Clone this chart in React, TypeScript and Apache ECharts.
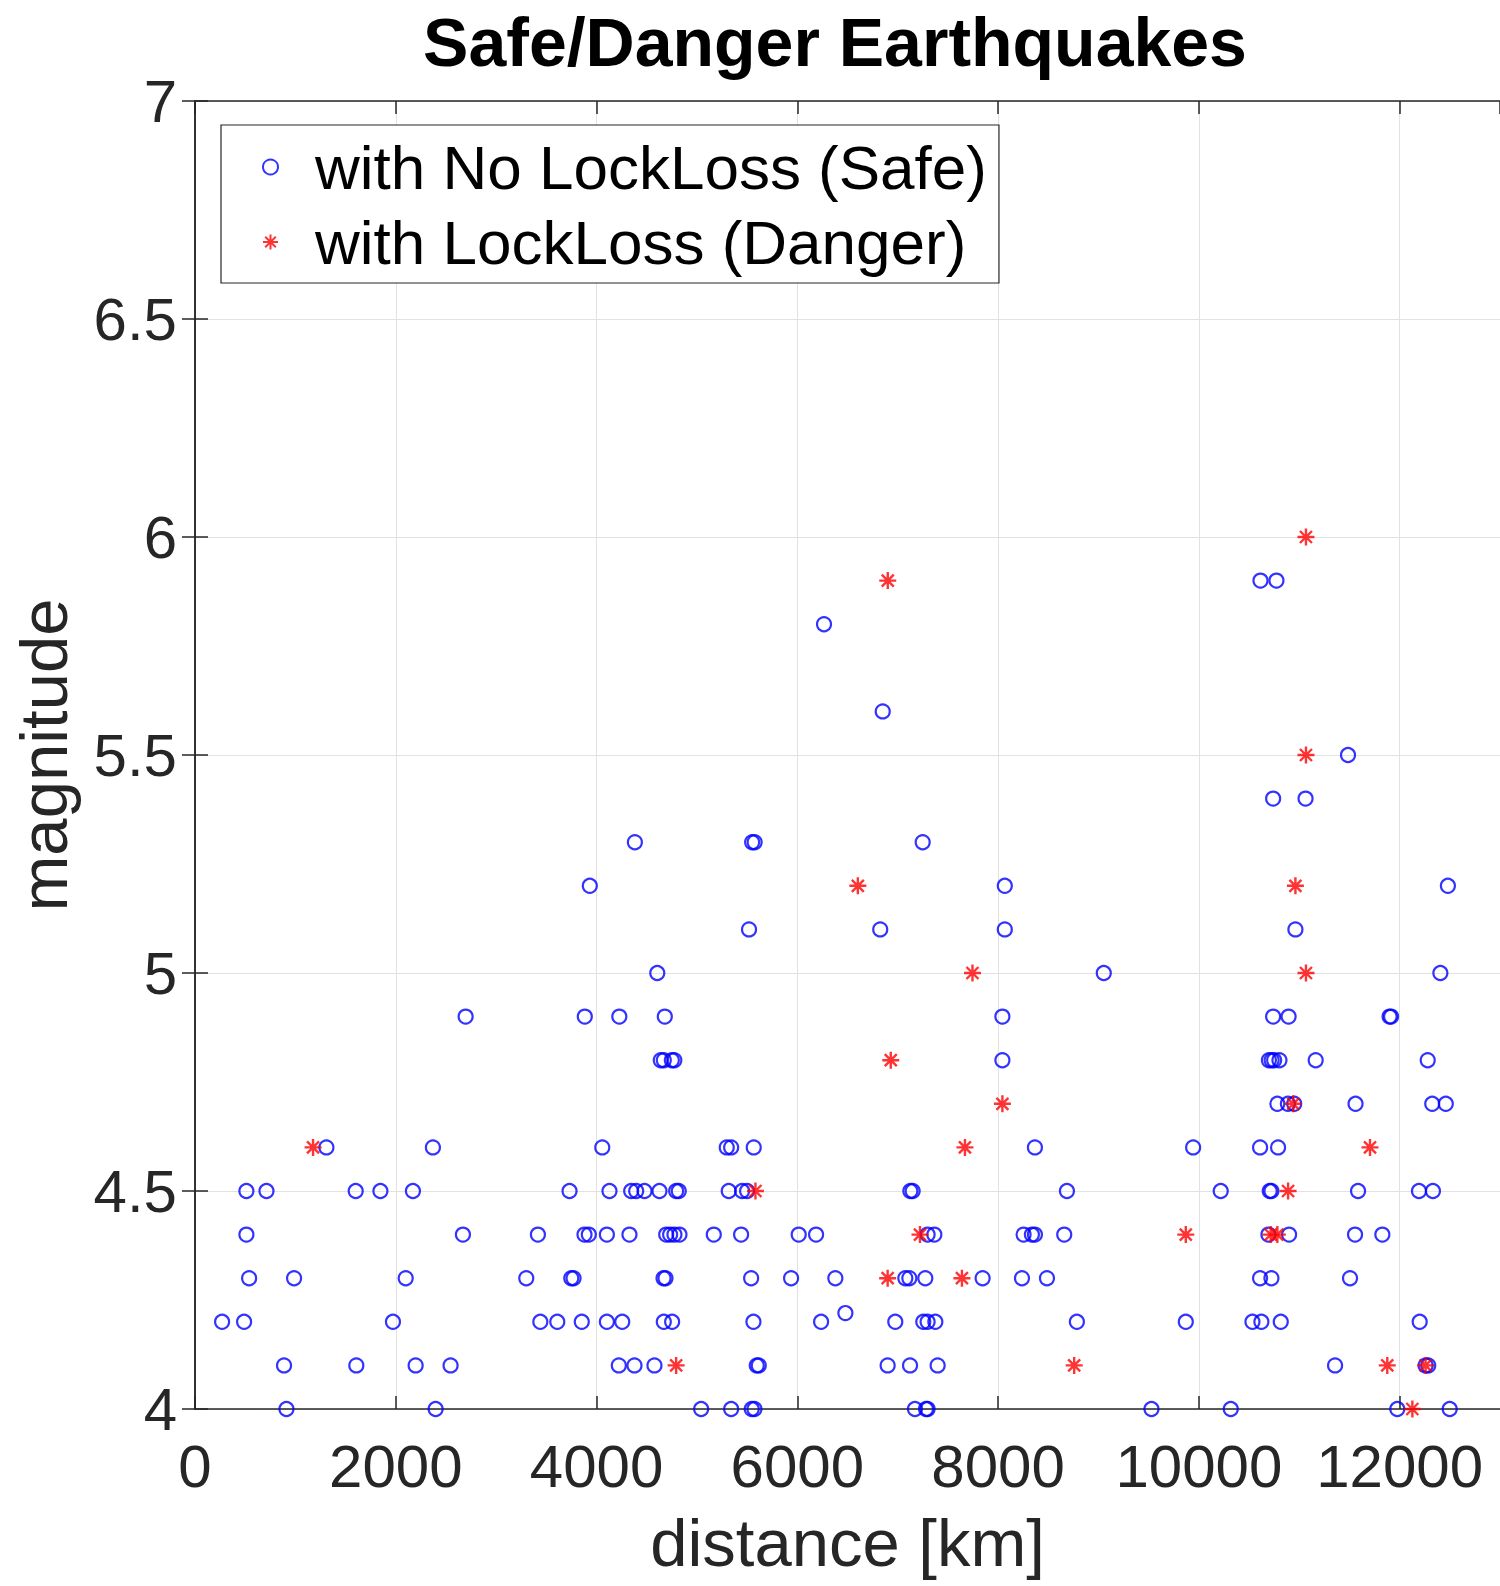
import React, { useEffect, useRef } from "react";
import * as echarts from "echarts";

// Magnitude rows and the distances (km) of events at each magnitude
const safeMagnitudes = [5.9, 5.8, 5.6, 5.5, 5.4, 5.3, 5.2, 5.1, 5.0, 4.9, 4.8, 4.7, 4.6, 4.5, 4.4, 4.3, 4.22, 4.2, 4.1, 4.0];
const safeDistances = [
  [10614, 10773],
  [6266],
  [6851],
  [11486],
  [10740, 11063],
  [4382, 5550, 5575, 7249],
  [3933, 8067, 12481],
  [5519, 6826, 8067, 10962],
  [4605, 9053, 12406],
  [2696, 3883, 4227, 4680, 8043, 10740, 10894, 11900, 11915],
  [4640, 4670, 4750, 4775, 8043, 10698, 10725, 10750, 10803, 11164, 12280],
  [10782, 10887, 10950, 11561, 12325, 12460],
  [1309, 2370, 4057, 5297, 5341, 5566, 8367, 9943, 10610, 10789],
  [512, 712, 1601, 1847, 2171, 3731, 4129, 4345, 4395, 4478, 4627, 4793, 4819, 5317, 5450, 5500, 7126, 7149, 8686, 10218, 10706, 10723, 11586, 12193, 12332],
  [512, 2669, 3416, 3880, 3923, 4103, 4328, 4694, 4733, 4776, 4826, 5168, 5440, 6014, 6187, 7298, 7365, 8254, 8337, 8367, 8659, 10693, 10899, 11556, 11828],
  [539, 987, 2099, 3300, 3748, 3771, 4667, 4687, 5540, 5938, 6379, 7076, 7116, 7275, 7846, 8238, 8487, 10610, 10723, 11506],
  [6479],
  [270, 489, 1972, 3440, 3609, 3853, 4103, 4256, 4670, 4753, 5563, 6237, 6976, 7255, 7298, 7375, 8785, 9870, 10534, 10623, 10816, 12200],
  [887, 1607, 2198, 2546, 4222, 4378, 4577, 5596, 5616, 6900, 7123, 7398, 11357, 12259, 12285],
  [911, 2397, 5042, 5341, 5546, 5573, 7172, 7282, 7298, 9528, 10318, 11977, 12499],
];

const dangerMagnitudes = [6.0, 5.9, 5.5, 5.2, 5.0, 4.8, 4.7, 4.6, 4.5, 4.4, 4.3, 4.1, 4.0];
const dangerDistances = [
  [11067],
  [6901],
  [11067],
  [6603, 10962],
  [7745, 11067],
  [6931],
  [8043, 10941],
  [1176, 7670, 11705],
  [5583, 10889],
  [7222, 9870, 10716, 10782],
  [6900, 7640],
  [4793, 8758, 11877, 12259],
  [12127],
];

const seriesNames = ["with No LockLoss (Safe)", "with LockLoss (Danger)"];
const titleText = "Safe/Danger Earthquakes";
const xAxisName = "distance [km]";
const yAxisName = "magnitude";

const FONT = "'Liberation Sans', Arial, Helvetica, sans-serif";
const AX = "#262626";
const STAR = "path://M0,-10L0,10M-10,0L10,0M-7.07,-7.07L7.07,7.07M-7.07,7.07L7.07,-7.07";

function toPoints(mags: number[], dists: number[][]) {
  const pts: number[][] = [];
  mags.forEach((m, i) => dists[i].forEach((d) => pts.push([d, m])));
  return pts;
}

export default function App() {
  const ref = useRef<HTMLDivElement>(null);
  useEffect(() => {
    if (!ref.current) return;
    const chart = echarts.init(ref.current, null, { renderer: "svg" });
    const axisCommon = {
      axisLine: { show: true, lineStyle: { color: AX, width: 1.5 } },
      axisTick: { show: true, inside: true, length: 13, lineStyle: { color: AX, width: 1.5 } },
    };
    chart.setOption({
      animation: false,
      backgroundColor: "#ffffff",
      title: {
        text: titleText,
        left: 830,
        top: 0,
        textAlign: "center",
        textStyle: { fontFamily: FONT, fontSize: 68, fontWeight: "bold", color: "#000", lineHeight: 74 },
      },
      legend: {
        orient: "vertical",
        left: 221,
        top: 125,
        padding: [11, 12, 10, 41],
        itemGap: 13,
        itemWidth: 79,
        itemHeight: 15,
        borderColor: AX,
        borderWidth: 1.2,
        backgroundColor: "#ffffff",
        textStyle: { fontFamily: FONT, fontSize: 62, color: "#000", lineHeight: 62 },
        data: seriesNames,
      },
      grid: { left: 195, top: 101, width: 1306, height: 1308, containLabel: false },
      xAxis: [
        {
          type: "value",
          min: 0,
          max: 13000,
          interval: 2000,
          position: "bottom",
          ...axisCommon,
          splitLine: { show: true, lineStyle: { color: "#e2e2e2", width: 1 } },
          axisLabel: {
            fontFamily: FONT,
            fontSize: 60,
            color: AX,
            margin: 27,
            showMaxLabel: false,
            formatter: (v: number) => String(v),
          },
          name: xAxisName,
          nameLocation: "middle",
          nameGap: 100,
          nameTextStyle: { fontFamily: FONT, fontSize: 67, color: AX },
        },
        {
          type: "value",
          min: 0,
          max: 13000,
          interval: 2000,
          position: "top",
          ...axisCommon,
          splitLine: { show: false },
          axisLabel: { show: false },
        },
      ],
      yAxis: [
        {
          type: "value",
          min: 4,
          max: 7,
          interval: 0.5,
          position: "left",
          ...axisCommon,
          splitLine: { show: true, lineStyle: { color: "#e2e2e2", width: 1 } },
          axisLabel: { fontFamily: FONT, fontSize: 60, color: AX, margin: 18 },
          name: yAxisName,
          nameLocation: "middle",
          nameGap: 118,
          nameRotate: 90,
          nameTextStyle: { fontFamily: FONT, fontSize: 67, color: AX },
        },
        {
          type: "value",
          min: 4,
          max: 7,
          interval: 0.5,
          position: "right",
          ...axisCommon,
          splitLine: { show: false },
          axisLabel: { show: false },
        },
      ],
      series: [
        {
          name: seriesNames[0],
          type: "scatter",
          xAxisIndex: 0,
          yAxisIndex: 0,
          symbol: "circle",
          symbolSize: 14,
          itemStyle: { color: "transparent", borderColor: "#0000ff", borderWidth: 2.2 },
          data: toPoints(safeMagnitudes, safeDistances),
        },
        {
          name: seriesNames[1],
          type: "scatter",
          xAxisIndex: 0,
          yAxisIndex: 0,
          symbol: STAR,
          symbolSize: 17,
          itemStyle: { color: "#ff0000", borderColor: "#ff0000", borderWidth: 2.4 },
          data: toPoints(dangerMagnitudes, dangerDistances),
        },
      ],
    });
    return () => chart.dispose();
  }, []);
  return <div ref={ref} style={{ position: "absolute", left: 0, top: 0, width: 1500, height: 1586 }} />;
}
